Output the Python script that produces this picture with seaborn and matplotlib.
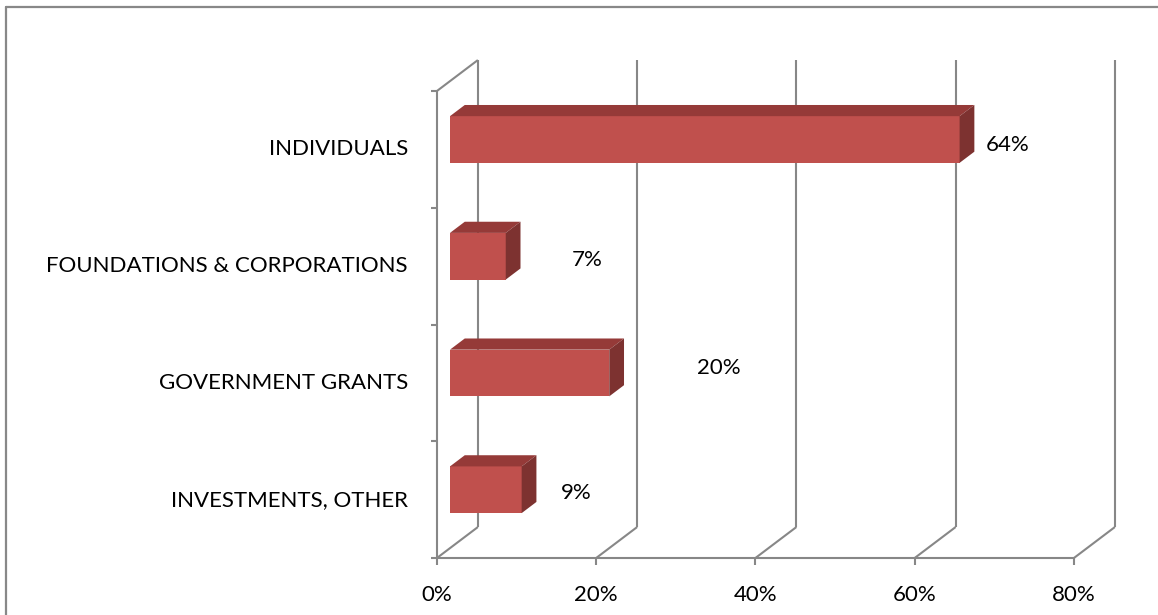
import numpy as np
import pandas as pd
import matplotlib
matplotlib.use("Agg")
import matplotlib.pyplot as plt
from matplotlib.patches import Polygon
from matplotlib.lines import Line2D
import seaborn as sns

# Data
categories = ["INDIVIDUALS", "FOUNDATIONS & CORPORATIONS", "GOVERNMENT GRANTS", "INVESTMENTS, OTHER"]
shares = [64, 7, 20, 9]
value_labels = ["64%", "7%", "20%", "9%"]
x_ticks = [0, 20, 40, 60, 80]
x_tick_labels = ["0%", "20%", "40%", "60%", "80%"]

# Layout (Excel-like 3D box), all in data units
PX_PER_PCT = 159.25 / 20
PX_PER_CAT = 116.75
DX = 41 / PX_PER_PCT       # full depth shift in x
DY = -31 / PX_PER_CAT      # full depth shift in y (axis inverted)
T0, T1 = 0.32, 0.68        # bar front / back depth
BAR_W = 0.40
label_offsets = [6.0, 10.2, 13.7, 6.8]   # where Excel put the data labels
label_dy = [0.05, 0.03, -0.04, 0.03]

FRONT = "#C0504D"
TOP = "#953A38"
SIDE = "#7D3230"
GRID = "#878787"
FONT = "Lato"
FS = 16

sns.set_style("white")
plt.rcParams["font.family"] = [FONT, "DejaVu Sans"]

df = pd.DataFrame({"category": categories, "share": shares})

fig = plt.figure(figsize=(11.58, 6.15), dpi=100)
ax = fig.add_axes([0, 0, 1, 1])

sns.barplot(data=df, x="share", y="category", orient="h", color=FRONT,
            width=BAR_W, saturation=1, linewidth=0, ax=ax, zorder=3)


def proj(v, t, c):
    return v + (t - T0) * DX, c + (t - T0) * DY


def seg(p, q, **kw):
    ax.plot([p[0], q[0]], [p[1], q[1]], color=GRID, lw=1.5,
            solid_capstyle="butt", zorder=1, **kw)


n = len(categories)
top_c, bot_c = -0.5, n - 0.5

# walls and floor gridlines
for v in x_ticks:
    seg(proj(v, 1, top_c), proj(v, 1, bot_c))
    seg(proj(v, 0, bot_c), proj(v, 1, bot_c))
    # tick marks below floor
    p = proj(v, 0, bot_c)
    seg(p, (p[0], p[1] + 7 / PX_PER_CAT))
seg(proj(0, 0, top_c), proj(0, 0, bot_c))
seg(proj(0, 0, top_c), proj(0, 1, top_c))
seg(proj(x_ticks[0], 0, bot_c), proj(x_ticks[-1], 0, bot_c))
for k in range(n + 1):
    p = proj(0, 0, top_c + k)
    seg(p, (p[0] - 6 / PX_PER_PCT, p[1]))

# 3D faces of bars
ddx = (T1 - T0) * DX
ddy = (T1 - T0) * DY
for patch in ax.patches[:n]:
    x0, y0 = patch.get_x(), patch.get_y()
    w, h = patch.get_width(), patch.get_height()
    top = [(x0, y0), (x0 + w, y0), (x0 + w + ddx, y0 + ddy), (x0 + ddx, y0 + ddy)]
    side = [(x0 + w, y0), (x0 + w, y0 + h), (x0 + w + ddx, y0 + h + ddy), (x0 + w + ddx, y0 + ddy)]
    ax.add_patch(Polygon(top, closed=True, facecolor=TOP, edgecolor="none", zorder=3))
    ax.add_patch(Polygon(side, closed=True, facecolor=SIDE, edgecolor="none", zorder=3))

# data labels
for i, (v, lab) in enumerate(zip(shares, value_labels)):
    ax.text(v + label_offsets[i], i + label_dy[i], lab, ha="center", va="center",
            fontsize=FS, color="black")

# category labels
for i, cat in enumerate(categories):
    x, y = proj(0, 0, i)
    ax.text(x - 3.65, y, cat, ha="right", va="center", fontsize=FS, color="black")

# x tick labels
for v, lab in zip(x_ticks, x_tick_labels):
    x, y = proj(v, 0, bot_c)
    ax.text(x, y + 0.316, lab, ha="center", va="center", fontsize=FS, color="black")

ax.set_xlim(-450 / PX_PER_PCT, (1158 - 450) / PX_PER_PCT)
ax.set_ylim((615 - 139.5) / PX_PER_CAT, -139.5 / PX_PER_CAT)
ax.axis("off")

# chart frame (right/bottom edges fall outside the picture)
fx, fy = 6 / 1158, 1 - 7 / 615
fig.add_artist(Line2D([fx, 1], [fy, fy], color="#888888", lw=1.6, transform=fig.transFigure))
fig.add_artist(Line2D([fx, fx], [0, fy], color="#888888", lw=1.6, transform=fig.transFigure))

fig.savefig("out.png", dpi=100)
